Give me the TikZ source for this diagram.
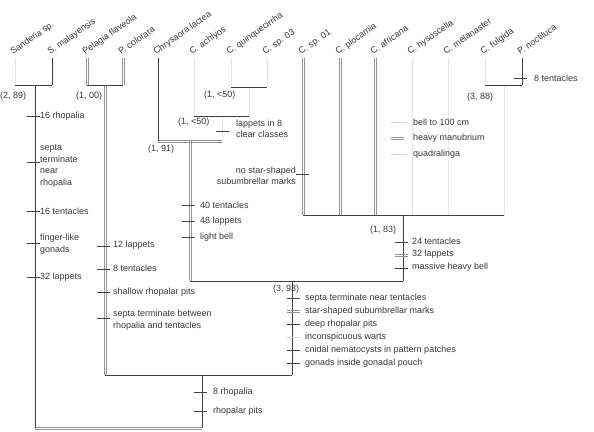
\documentclass[tikz,border=0pt]{standalone}
\usepackage{fontspec}
\setmainfont{Liberation Sans}
\begin{document}
\begin{tikzpicture}[x=1pt,y=-1pt,
  br/.style={draw=black!75, line width=0.7pt},
  dln/.style={draw=black!42, line width=0.6pt},
  fnt/.style={draw=black!9, line width=0.8pt},
  tk/.style={draw=black!75, line width=0.6pt},
  ftk/.style={draw=black!15, line width=0.8pt},
  lbl/.style={font=\fontsize{9}{11.5}\selectfont, text=black!78, inner sep=0pt},
  tx/.style={lbl, rotate=35, anchor=base west},
  chl/.style={lbl, anchor=west, align=left},
  supp/.style={lbl, anchor=west}]
\useasboundingbox (0,0) rectangle (594,431);
\newcommand\chtick[3][tk]{\draw[#1] ({#2-8},#3) -- ({#2+5},#3);}
\newcommand\dbtick[2]{\draw[dln] ({#1-8},{#2-1.2}) -- ({#1+5},{#2-1.2}); \draw[dln] ({#1-8},{#2+1.2}) -- ({#1+5},{#2+1.2});}
\newcommand\dblvert[2]{\draw[dln] ([xshift=-1.1pt]#1) -- ([xshift=-1.1pt]#2); \draw[dln] ([xshift=1.1pt]#1) -- ([xshift=1.1pt]#2);}
\newcommand\dblhorz[2]{\draw[dln] ([yshift=-1.1pt]#1) -- ([yshift=-1.1pt]#2); \draw[dln] ([yshift=1.1pt]#1) -- ([yshift=1.1pt]#2);}
% taxon tops
\foreach \i/\x/\t in {1/15/Sanderia sp., 2/52/S. malayensis, 3/87/Pelagia flaveola, 4/123/P. colorata,
  5/158/Chrysaora lactea, 6/194/C. achlyos, 7/231/C. quinquecirrha, 8/267/C. sp. 03, 9/303/C. sp. 01,
  10/340/C. plocamia, 11/375/C. africana, 12/412/C. hysoscella, 13/448/C. melanaster, 14/485/C. fulgida,
  15/522/P. noctiluca}{
  \coordinate (t\i) at (\x,58);
  \node[tx] (L\i) at (\x-2,55) {\t};
}
% internal nodes (junction coordinates)
\coordinate (a12) at (15,85); \coordinate (b12) at (52,85); \coordinate (n12) at (35,85);
\coordinate (rL) at (35,428); \coordinate (rR) at (202,428);
\coordinate (aL) at (105,375); \coordinate (aR) at (292,375); \coordinate (nA) at (202,375);
\coordinate (pL) at (87,85); \coordinate (pR) at (123,85); \coordinate (nP) at (105,85);
\coordinate (bL) at (190,281); \coordinate (bR) at (403,281); \coordinate (nB) at (292,281);
\coordinate (cL) at (158,141); \coordinate (cR) at (222,141); \coordinate (nC) at (190,141);
\coordinate (dL) at (194,116); \coordinate (dR) at (249,116); \coordinate (nD) at (222,116);
\coordinate (eL) at (231,87); \coordinate (eR) at (267,87); \coordinate (nE) at (249,87);
\coordinate (fL) at (303,215); \coordinate (fR) at (504,215); \coordinate (nF) at (403,215);
\coordinate (gL) at (485,85); \coordinate (gR) at (522,85); \coordinate (nG) at (504,85);
\coordinate (f10) at (340,215); \coordinate (f11) at (375,215);
\coordinate (f12) at (412,215); \coordinate (f13) at (448,215);
% faint (coloured) branches
\draw[fnt] (t1) -- (a12);
\draw[fnt] (t6) -- (dL);
\draw[fnt] (t7) -- (eL);
\draw[fnt] (t8) -- (eR);
\draw[fnt] (t12) -- (f12);
\draw[fnt] (t13) -- (f13);
\draw[fnt] (t14) -- (gL);
\draw[fnt] (nD) -- (cR);
\draw[fnt] (nE) -- (dR);
\draw[fnt] (nG) -- (fR);
% double branches
\dblvert{t3}{pL}
\dblvert{t4}{pR}
\dblvert{nP}{aL}
\dblvert{nC}{bL}
\dblhorz{cL}{cR}
\dblvert{t9}{fL}
\dblvert{t10}{f10}
\dblvert{t11}{f11}
\dblhorz{rL}{rR}
% single branches
\draw[br] (a12) -- (b12);
\draw[br] (t2) -- (b12);
\draw[br] (n12) -- (rL);
\draw[br] (nA) -- (rR);
\draw[br] (pL) -- (pR);
\draw[br] (aL) -- (aR);
\draw[br] (aR) -- (nB);
\draw[br] (bL) -- (bR);
\draw[br] (t5) -- (cL);
\draw[br] (dL) -- (dR);
\draw[br] (eL) -- (eR);
\draw[br] (fL) -- (fR);
\draw[br] (nF) -- (bR);
\draw[br] (gL) -- (gR);
\draw[br] (t15) -- (gR);
% support values
\node[supp] (s1) at (0,96) {(2, 89)};
\node[supp] (s2) at (76,96) {(1, 00)};
\node[supp] (s3) at (204,95) {(1, <50)};
\node[supp] (s4) at (178,122) {(1, <50)};
\node[supp] (s5) at (148,149) {(1, 91)};
\node[supp] (s6) at (370,230) {(1, 83)};
\node[supp] (s7) at (273,289) {(3, 93)};
\node[supp] (s8) at (467,97) {(3, 88)};
% characters on Sanderia branch
\chtick{35}{116} \node[chl] (c1) at (40,116) {16 rhopalia};
\chtick{35}{162} \node[chl] (c2) at (40,166) {septa\\terminate\\near\\rhopalia};
\chtick{35}{211} \node[chl] (c3) at (40,211) {16 tentacles};
\chtick{35}{243} \node[chl] (c4) at (40,244) {finger-like\\gonads};
\chtick{35}{277} \node[chl] (c5) at (40,277) {32 lappets};
% Pelagia branch
\chtick{105}{246} \node[chl] (c6) at (113,245) {12 lappets};
\chtick{105}{269} \node[chl] (c7) at (113,268) {8 tentacles};
\chtick{105}{292} \node[chl] (c8) at (113,292) {shallow rhopalar pits};
\chtick{105}{318} \node[chl] (c9) at (113,320) {septa terminate between\\rhopalia and tentacles};
% node C branch
\chtick{190}{205} \node[chl] (c10) at (200,205) {40 tentacles};
\chtick{190}{221} \node[chl] (c11) at (200,221) {48 lappets};
\chtick{190}{237} \node[chl] (c12) at (200,237) {light bell};
% node D branch
\chtick{224}{131} \node[chl] (c13) at (236,129) {lappets in 8\\clear classes};
% taxon 9
\chtick{304}{174} \node[lbl, anchor=east, align=right] (c14) at (296,176) {no star-shaped\\subumbrellar marks};
% node F branch
\chtick{403}{242} \node[chl] (c15) at (412,241) {24 tentacles};
\dbtick{403}{255} \node[chl] (c16) at (412,254) {32 lappets};
\chtick{403}{268} \node[chl] (c17) at (412,267) {massive heavy bell};
% node B / box list
\chtick{295}{298} \node[chl] (c18) at (305,298) {septa terminate near tentacles};
\dbtick{295}{311} \node[chl] (c19) at (305,311) {star-shaped subumbrellar marks};
\chtick{295}{324} \node[chl] (c20) at (305,324) {deep rhopalar pits};
\chtick[ftk]{295}{337} \node[chl] (c21) at (305,337) {inconspicuous warts};
\chtick{295}{350} \node[chl] (c22) at (305,350) {cnidal nematocysts in pattern patches};
\chtick{295}{363} \node[chl] (c23) at (305,363) {gonads inside gonadal pouch};
% root-right branch
\chtick{202}{392} \node[chl] (c24) at (213,392) {8 rhopalia};
\chtick{202}{411} \node[chl] (c25) at (213,411) {rhopalar pits};
% taxon 15
\chtick{522}{78} \node[chl] (c26) at (534,78) {8 tentacles};
% legend
\draw[ftk] (391,122) -- (407,122); \node[chl] (g1) at (413,122) {bell to 100 cm};
\dbtick{399}{138} \node[chl] (g2) at (413,138) {heavy manubrium};
\draw[ftk] (391,154) -- (407,154); \node[chl] (g3) at (413,154) {quadralinga};
\end{tikzpicture}
\end{document}
